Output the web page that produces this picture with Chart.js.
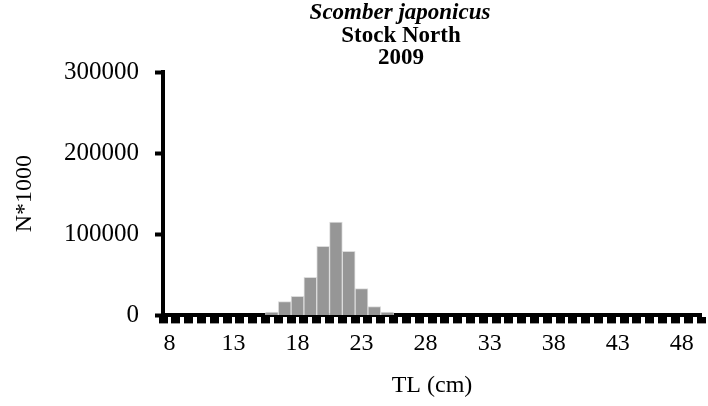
<!DOCTYPE html>
<html>
<head>
<meta charset="utf-8">
<script src="https://cdn.jsdelivr.net/npm/chart.js@4.4.1/dist/chart.umd.min.js"></script>
<style>
  html, body { margin: 0; padding: 0; background: #fff; overflow: hidden; }
  #wrap { width: 708px; height: 406px; }
</style>
</head>
<body>
<div id="wrap"><canvas id="chart" width="708" height="406"></canvas></div>
<script>
// length classes (cm)
const lengthClasses = [8, 9, 10, 11, 12, 13, 14, 15, 16, 17, 18, 19, 20, 21, 22, 23, 24, 25, 26, 27, 28,
  29, 30, 31, 32, 33, 34, 35, 36, 37, 38, 39, 40, 41, 42, 43, 44, 45, 46, 47, 48, 49];
// abundance (N*1000) per class
const abundance = [0, 0, 0, 0, 0, 0, 0, 0, 4000, 17000, 23500, 47000, 85000, 115000, 79000, 33000, 11000, 4000, 0, 0, 0,
  0, 0, 0, 0, 0, 0, 0, 0, 0, 0, 0, 0, 0, 0, 0, 0, 0, 0, 0, 0, 0];
const labelledClasses = [8, 13, 18, 23, 28, 33, 38, 43, 48];
const yTicks = [0, 100000, 200000, 300000];
const titleLines = ['Scomber japonicus', 'Stock North', '2009'];

const serif = "'Liberation Serif', 'Times New Roman', serif";

const titlePlugin = {
  id: 'stackedTitle',
  afterDraw(chart) {
    const c = chart.ctx;
    c.save();
    c.fillStyle = '#000';
    c.textAlign = 'center';
    c.textBaseline = 'middle';
    c.font = 'italic bold 23px ' + serif;
    c.fillText(titleLines[0], 400, 13);
    c.font = 'bold 23px ' + serif;
    c.fillText(titleLines[1], 401, 36);
    c.fillText(titleLines[2], 401, 58);
    c.restore();
  }
};

new Chart(document.getElementById('chart'), {
  type: 'bar',
  data: {
    labels: lengthClasses,
    datasets: [{
      data: abundance,
      backgroundColor: '#969696',
      borderColor: '#dcdcdc',
      borderWidth: 1,
      barPercentage: 1,
      categoryPercentage: 1
    }]
  },
  options: {
    responsive: false,
    animation: false,
    layout: { padding: { top: 72, right: 7, left: 0, bottom: 0 } },
    plugins: { legend: { display: false }, tooltip: { enabled: false } },
    scales: {
      x: {
        grid: { drawOnChartArea: false, offset: true, tickLength: 8, tickWidth: 9, tickColor: '#000' },
        border: { color: '#000', width: 4 },
        ticks: {
          autoSkip: false, maxRotation: 0, color: '#000', padding: 6,
          font: { family: serif, size: 24 },
          callback: (v, i) => labelledClasses.includes(lengthClasses[i]) ? String(lengthClasses[i]) : ''
        },
        title: { display: true, text: 'TL (cm)', color: '#000', font: { family: serif, size: 24 }, padding: { top: 7, bottom: 6 } }
      },
      y: {
        min: 0, max: 300000,
        afterBuildTicks: s => { s.ticks = yTicks.map(v => ({ value: v })); },
        afterFit: s => { s.width = 163; },
        grid: { drawOnChartArea: false, tickLength: 8, tickWidth: 4, tickColor: '#000' },
        border: { color: '#000', width: 4 },
        ticks: { color: '#000', padding: 16, font: { family: serif, size: 25 }, callback: v => String(v) },
        title: { display: true, text: 'N*1000', color: '#000', font: { family: serif, size: 24 }, padding: { top: 10, bottom: 0 } }
      }
    }
  },
  plugins: [titlePlugin]
});
</script>
</body>
</html>
